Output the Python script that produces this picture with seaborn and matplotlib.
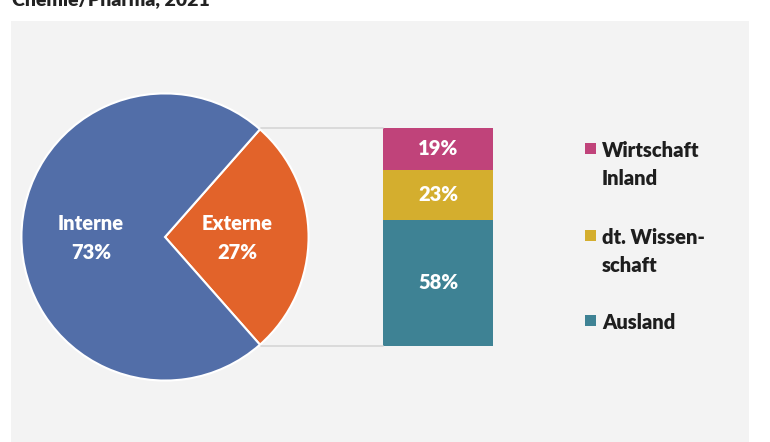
import matplotlib
matplotlib.use("Agg")
import matplotlib.pyplot as plt
import seaborn as sns
import numpy as np
import pandas as pd
from matplotlib.patches import Rectangle

# ---- data ----
pie_labels = ["Externe", "Interne"]
pie_values = [27, 73]
pie_colors = ["#e2632a", "#526ea8"]

bar_labels = ["Wirtschaft\nInland", "dt. Wissen-\nschaft", "Ausland"]
bar_values = [19, 23, 58]
bar_colors = ["#c0437a", "#d4ae2e", "#3e8294"]

title_text = "Chemie/Pharma, 2021"

sns.set_theme(style="white")
plt.rcParams["font.family"] = ["Lato", "DejaVu Sans"]

W, H = 770, 442
fig = plt.figure(figsize=(W / 100, H / 100), dpi=100, facecolor="white")

def fx(px):
    return px / W

def fy(py):
    return 1 - py / H

FW = "heavy"

# background axes in pixel coordinates
bg = fig.add_axes([0, 0, 1, 1], zorder=0)
bg.set_xlim(0, W)
bg.set_ylim(H, 0)
bg.axis("off")
bg.add_patch(Rectangle((11, 21), 749 - 11, H - 21 + 5, facecolor="#f3f3f3", edgecolor="none"))
bg.text(12, 5, title_text, fontsize=14, fontweight=FW, color="#222222", va="baseline", ha="left")

# pie geometry (pixels)
cx, cy, r = 165, 237, 145
bar_left, bar_right = 383, 493
ax_pie = fig.add_axes([fx(cx - r), fy(cy + r), 2 * r / W, 2 * r / H], zorder=1)
start = -pie_values[0] * 3.6 / 2
ax_pie.pie(pie_values, colors=pie_colors, startangle=start, counterclock=True,
           wedgeprops=dict(edgecolor="white", linewidth=1.5), radius=1)
ax_pie.set_xlim(-1.01, 1.01)
ax_pie.set_ylim(-1.01, 1.01)
ax_pie.set_aspect("equal")
ax_pie.axis("off")

# connector lines from wedge edges to the bar
ang = np.deg2rad(pie_values[0] * 3.6 / 2)
ex = cx + r * np.cos(ang)
ey_top = cy - r * np.sin(ang)
ey_bot = cy + r * np.sin(ang)

# stacked bar
ax_bar = fig.add_axes([fx(bar_left), fy(ey_bot), (bar_right - bar_left) / W, (ey_bot - ey_top) / H], zorder=1)
cum = np.cumsum(bar_values[::-1])[::-1]  # 100, 81, 58
for val, col in zip(cum, bar_colors):
    df = pd.DataFrame({"x": ["a"], "y": [val]})
    sns.barplot(data=df, x="x", y="y", color=col, width=1.0, saturation=1, ax=ax_bar, edgecolor="none")
ax_bar.set_xlim(-0.5, 0.5)
ax_bar.set_ylim(0, 100)
ax_bar.axis("off")
bottoms = cum - np.array(bar_values)
for val, b in zip(bar_values, bottoms):
    ax_bar.text(0, b + val / 2, f"{val}%", ha="center", va="center", color="white",
                fontsize=14.5, fontweight=FW)

# overlay for connectors, labels, legend
ov = fig.add_axes([0, 0, 1, 1], zorder=2)
ov.set_xlim(0, W)
ov.set_ylim(H, 0)
ov.axis("off")
ov.patch.set_alpha(0)
ov.plot([ex, bar_left], [ey_top, ey_top], color="#d6d6d6", lw=1.2)
ov.plot([ex, bar_left], [ey_bot, ey_bot], color="#d6d6d6", lw=1.2)

ov.text(91, 238, f"{pie_labels[1]}\n{pie_values[1]}%", ha="center", va="center", color="white",
        fontsize=14.5, fontweight=FW, linespacing=1.6)
ov.text(237, 238, f"{pie_labels[0]}\n{pie_values[0]}%", ha="center", va="center", color="white",
        fontsize=14.5, fontweight=FW, linespacing=1.6)

leg_y = [149, 236, 321]
for lab, col, y in zip(bar_labels, bar_colors, leg_y):
    ov.add_patch(Rectangle((585, y - 6), 11, 11, facecolor=col, edgecolor="none"))
    ov.text(602, y - 8, lab, ha="left", va="top", color="#1e1e1e", fontsize=14.5,
            fontweight=FW, linespacing=1.55)

fig.savefig("out.png", dpi=100, facecolor="white")
